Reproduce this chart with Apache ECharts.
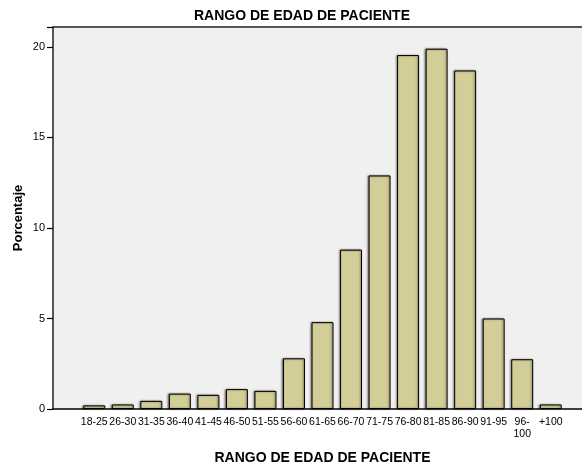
<!DOCTYPE html>
<html>
<head>
<meta charset="utf-8">
<script src="https://cdn.jsdelivr.net/npm/echarts@6/dist/echarts.min.js"></script>
<style>
  html, body { margin: 0; padding: 0; background: #fff; }
  #container { width: 582px; height: 466px; }
</style>
</head>
<body>
<div id="container"></div>
<script>
// rangos de edad
var categorias = ['18-25', '26-30', '31-35', '36-40', '41-45', '46-50', '51-55', '56-60',
  '61-65', '66-70', '71-75', '76-80', '81-85', '86-90', '91-95', '96-\n100', '+100'];
// porcentaje por rango
var porcentajes = [0.2, 0.25, 0.45, 0.85, 0.78, 1.1, 1.0, 2.8,
  4.8, 8.8, 12.9, 19.55, 19.9, 18.7, 5.0, 2.75, 0.25];
var ticksY = [0, 5, 10, 15, 20];
var maxY = 21.1;

var dom = document.getElementById("container");
var myChart = echarts.init(dom);
var option = {
  animation: false,
  textStyle: { fontFamily: 'Liberation Sans, Arial, sans-serif' },
  title: {
    text: 'RANGO DE EDAD DE PACIENTE',
    left: 297,
    textAlign: 'center',
    top: 4,
    textStyle: { fontSize: 14, fontWeight: 'bold', color: '#000' }
  },
  // grid 0: marco y eje Y; grid 1: las barras
  grid: [
    { left: 53, right: 0, top: 27, bottom: 57, show: true, backgroundColor: '#f0f0f0',
      borderWidth: 0, outerBoundsMode: 'none' },
    { left: 80, right: 17, top: 27, bottom: 57, outerBoundsMode: 'none' }
  ],
  xAxis: [
    { gridIndex: 0, type: 'value', position: 'bottom', min: 0, max: 1,
      axisLine: { show: true, onZero: false, lineStyle: { color: '#000', width: 1.5 } },
      axisTick: { show: false }, axisLabel: { show: false }, splitLine: { show: false } },
    { gridIndex: 0, type: 'value', position: 'top', min: 0, max: 1,
      axisLine: { show: true, onZero: false, lineStyle: { color: '#222', width: 1.5 } },
      axisTick: { show: false }, axisLabel: { show: false }, splitLine: { show: false } },
    {
      gridIndex: 1,
      type: 'category',
      data: categorias,
      name: 'RANGO DE EDAD DE PACIENTE',
      nameLocation: 'middle',
      nameGap: 42,
      nameMoveOverlap: false,
      nameTextStyle: { fontSize: 14, fontWeight: 'bold', color: '#000' },
      axisLine: { show: false },
      axisTick: { alignWithLabel: true, length: 6, lineStyle: { color: '#000' } },
      axisLabel: { color: '#000', fontSize: 10.5, interval: 0, margin: 7, lineHeight: 12, hideOverlap: false }
    }
  ],
  yAxis: [
    {
      gridIndex: 0,
      type: 'value',
      min: 0,
      max: maxY,
      interval: 5,
      name: 'Porcentaje',
      nameLocation: 'middle',
      nameGap: 28,
      nameMoveOverlap: false,
      nameTextStyle: { fontSize: 13, fontWeight: 'bold', color: '#000' },
      splitLine: { show: false },
      axisLine: { show: true, lineStyle: { color: '#222', width: 1.5 } },
      axisTick: { show: true, inside: false, length: 6, lineStyle: { color: '#000', width: 1.2 } },
      axisLabel: {
        color: '#000', fontSize: 11, margin: 8,
        formatter: function (v) { return ticksY.indexOf(v) >= 0 ? v : ''; }
      }
    },
    { gridIndex: 1, type: 'value', min: 0, max: maxY, show: false, splitLine: { show: false } }
  ],
  series: [{
    type: 'bar',
    xAxisIndex: 2,
    yAxisIndex: 1,
    data: porcentajes,
    barCategoryGap: '23%',
    itemStyle: {
      color: '#d3ce97',
      borderColor: '#000',
      borderWidth: 1,
      shadowColor: 'rgba(0,0,0,0.45)',
      shadowBlur: 2,
      shadowOffsetX: -1
    }
  }]
};
myChart.setOption(option);
</script>
</body>
</html>
